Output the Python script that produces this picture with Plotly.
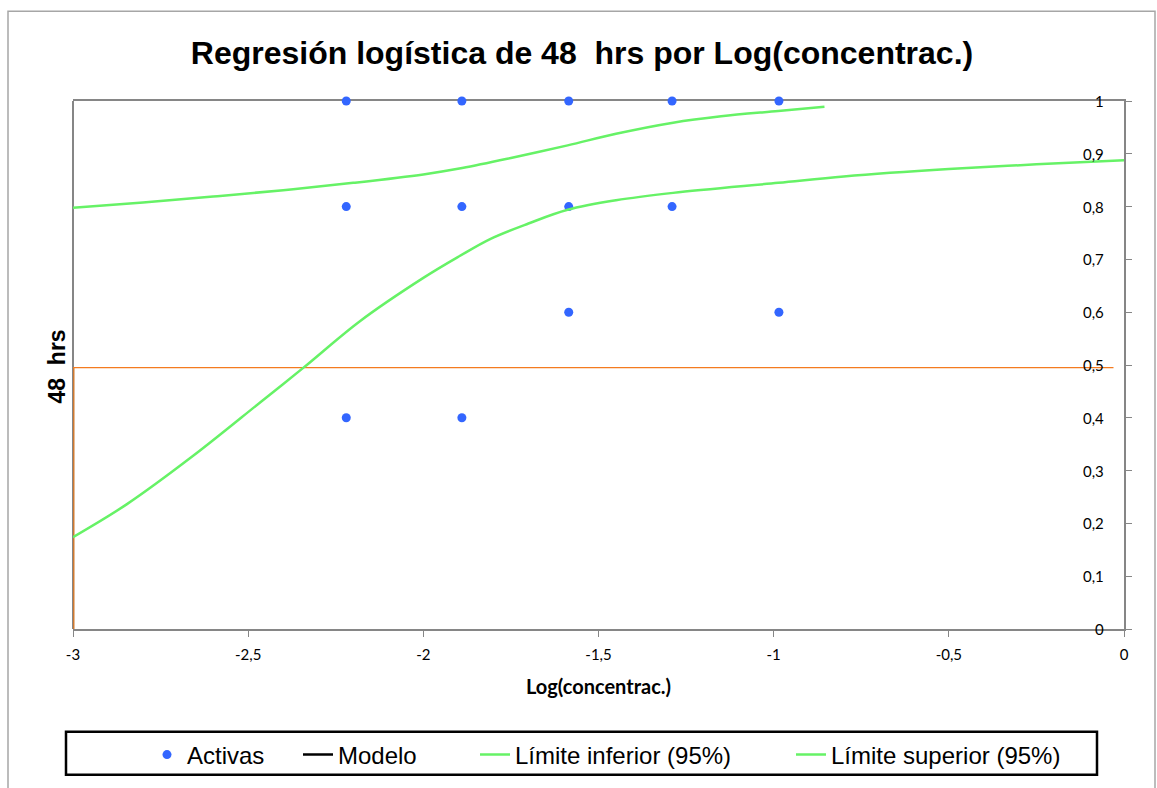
import plotly.graph_objects as go

# Observed proportions (Activas) at each log-concentration
act_x = [-2.22, -2.22, -2.22, -1.89, -1.89, -1.89, -1.585, -1.585, -1.585, -1.29, -1.29, -0.985, -0.985]
act_y = [1.0, 0.8, 0.4, 1.0, 0.8, 0.4, 1.0, 0.8, 0.6, 1.0, 0.8, 1.0, 0.6]

# 95% confidence band of the fitted logistic model
inf_x = [-3.0, -2.847, -2.657, -2.466, -2.342, -2.181, -2.0, -1.9, -1.808, -1.7, -1.588,
         -1.45, -1.287, -0.987, -0.8, -0.5, -0.25, 0.0]
inf_y = [0.174, 0.236, 0.328, 0.429, 0.495, 0.583, 0.665, 0.705, 0.739, 0.768, 0.794,
         0.812, 0.826, 0.845, 0.857, 0.871, 0.880, 0.888]

sup_x = [-3.0, -2.8, -2.6, -2.4, -2.2, -2.0, -1.889, -1.75, -1.588, -1.45, -1.287,
         -1.15, -0.987, -0.855]
sup_y = [0.798, 0.808, 0.819, 0.831, 0.845, 0.861, 0.873, 0.892, 0.916, 0.938, 0.959,
         0.971, 0.981, 0.989]

# 50% response level and its drop line to the x axis
level_x = [-3.0, -0.03]
level_y = [0.495, 0.495]
drop_x = [-3.0, -3.0]
drop_y = [0.0, 0.495]

x_ticks = [-3, -2.5, -2, -1.5, -1, -0.5, 0]
x_tick_text = ["-3", "-2,5", "-2", "-1,5", "-1", "-0,5", "0"]
y_ticks = [0, 0.1, 0.2, 0.3, 0.4, 0.5, 0.6, 0.7, 0.8, 0.9, 1]
y_tick_text = ["0", "0,1", "0,2", "0,3", "0,4", "0,5", "0,6", "0,7", "0,8", "0,9", "1"]

W, H = 1157, 788
ML, MR, MT, MB = 73, 33, 101, 158
PW, PH = W - ML - MR, H - MT - MB


def px(x):
    return (x - ML) / PW


def py(y):
    return (H - MB - y) / PH


GREEN = "#66F266"
GRAY = "#868686"
ORANGE = "#F47B20"
ARIAL = "Liberation Sans, Arial, sans-serif"
CALIBRI = "Lato, Carlito, Calibri, sans-serif"

fig = go.Figure()
fig.add_trace(go.Scatter(x=drop_x, y=drop_y, mode="lines", showlegend=False,
                         line=dict(color="#D07A30", width=3), hoverinfo="skip"))
fig.add_trace(go.Scatter(x=level_x, y=level_y, mode="lines", showlegend=False,
                         line=dict(color=ORANGE, width=1.4), hoverinfo="skip"))
fig.add_trace(go.Scatter(x=act_x, y=act_y, mode="markers", name="Activas", legend="legend",
                         marker=dict(color="#3366FF", size=9), cliponaxis=False))
fig.add_trace(go.Scatter(x=[None], y=[None], mode="lines", name="Modelo", legend="legend2",
                         line=dict(color="black", width=2.5)))
fig.add_trace(go.Scatter(x=inf_x, y=inf_y, mode="lines", name="Límite inferior (95%)",
                         legend="legend3",
                         line=dict(color=GREEN, width=2.5, shape="spline")))
fig.add_trace(go.Scatter(x=sup_x, y=sup_y, mode="lines", name="Límite superior (95%)",
                         legend="legend4",
                         line=dict(color=GREEN, width=2.5, shape="spline")))

tick_font = dict(family=CALIBRI, size=15, color="black")


def legend_at(text_left):
    return dict(orientation="h", x=px(text_left - 45), xanchor="left",
                y=py(755), yanchor="middle", bgcolor="rgba(0,0,0,0)", borderwidth=0,
                font=dict(family=ARIAL, size=24, color="black"))


annotations = [dict(text="<b>48  hrs</b>", textangle=-90, xref="paper", yref="paper",
                    x=px(57), y=py(367), xanchor="center", yanchor="middle",
                    showarrow=False, font=dict(family=ARIAL, size=23, color="black"))]
for v, t in zip(y_ticks, y_tick_text):
    annotations.append(dict(text=t, xref="paper", yref="y", x=px(1106), y=v,
                            xanchor="right", yanchor="middle", showarrow=False,
                            font=tick_font))

fig.update_layout(
    width=W, height=H,
    margin=dict(l=ML, r=MR, t=MT, b=MB),
    paper_bgcolor="white", plot_bgcolor="white",
    separators=",.",
    title=dict(text="<b>Regresión logística de 48  hrs por Log(concentrac.)</b>",
               font=dict(family=ARIAL, size=32, color="black"),
               xref="container", x=582 / W, xanchor="center",
               yref="container", y=1 - 53 / H, yanchor="middle"),
    xaxis=dict(range=[-3, 0], tickvals=x_ticks, ticktext=x_tick_text,
               showgrid=False, zeroline=False, showline=True, linecolor=GRAY,
               linewidth=2, mirror=True, ticks="outside", ticklen=6, tickcolor=GRAY,
               tickfont=tick_font, ticklabelstandoff=5, ticklabeloverflow="allow",
               layer="below traces",
               title=dict(text="<b>Log(concentrac.)</b>", standoff=18,
                          font=dict(family=CALIBRI, size=20, color="black"))),
    yaxis=dict(range=[0, 1], tickvals=y_ticks, side="right", showticklabels=False,
               showgrid=False, zeroline=False, showline=True, linecolor=GRAY,
               linewidth=2, mirror=False, ticks="outside", ticklen=6, tickcolor=GRAY,
               layer="below traces"),
    legend=legend_at(192),
    legend2=legend_at(343),
    legend3=legend_at(520),
    legend4=legend_at(836),
    annotations=annotations,
    shapes=[
        dict(type="rect", xref="paper", yref="paper", x0=px(8), x1=px(1155),
             y0=py(800), y1=py(11), line=dict(color="#A6A6A6", width=1.5), layer="below"),
        dict(type="line", xref="paper", yref="paper", x0=0, x1=0, y0=0, y1=1,
             line=dict(color=GRAY, width=2), layer="below"),
        dict(type="rect", xref="paper", yref="paper", x0=px(66), x1=px(1097),
             y0=py(776), y1=py(733), line=dict(color="black", width=2.5)),
    ],
)

fig.write_html("out.html")
